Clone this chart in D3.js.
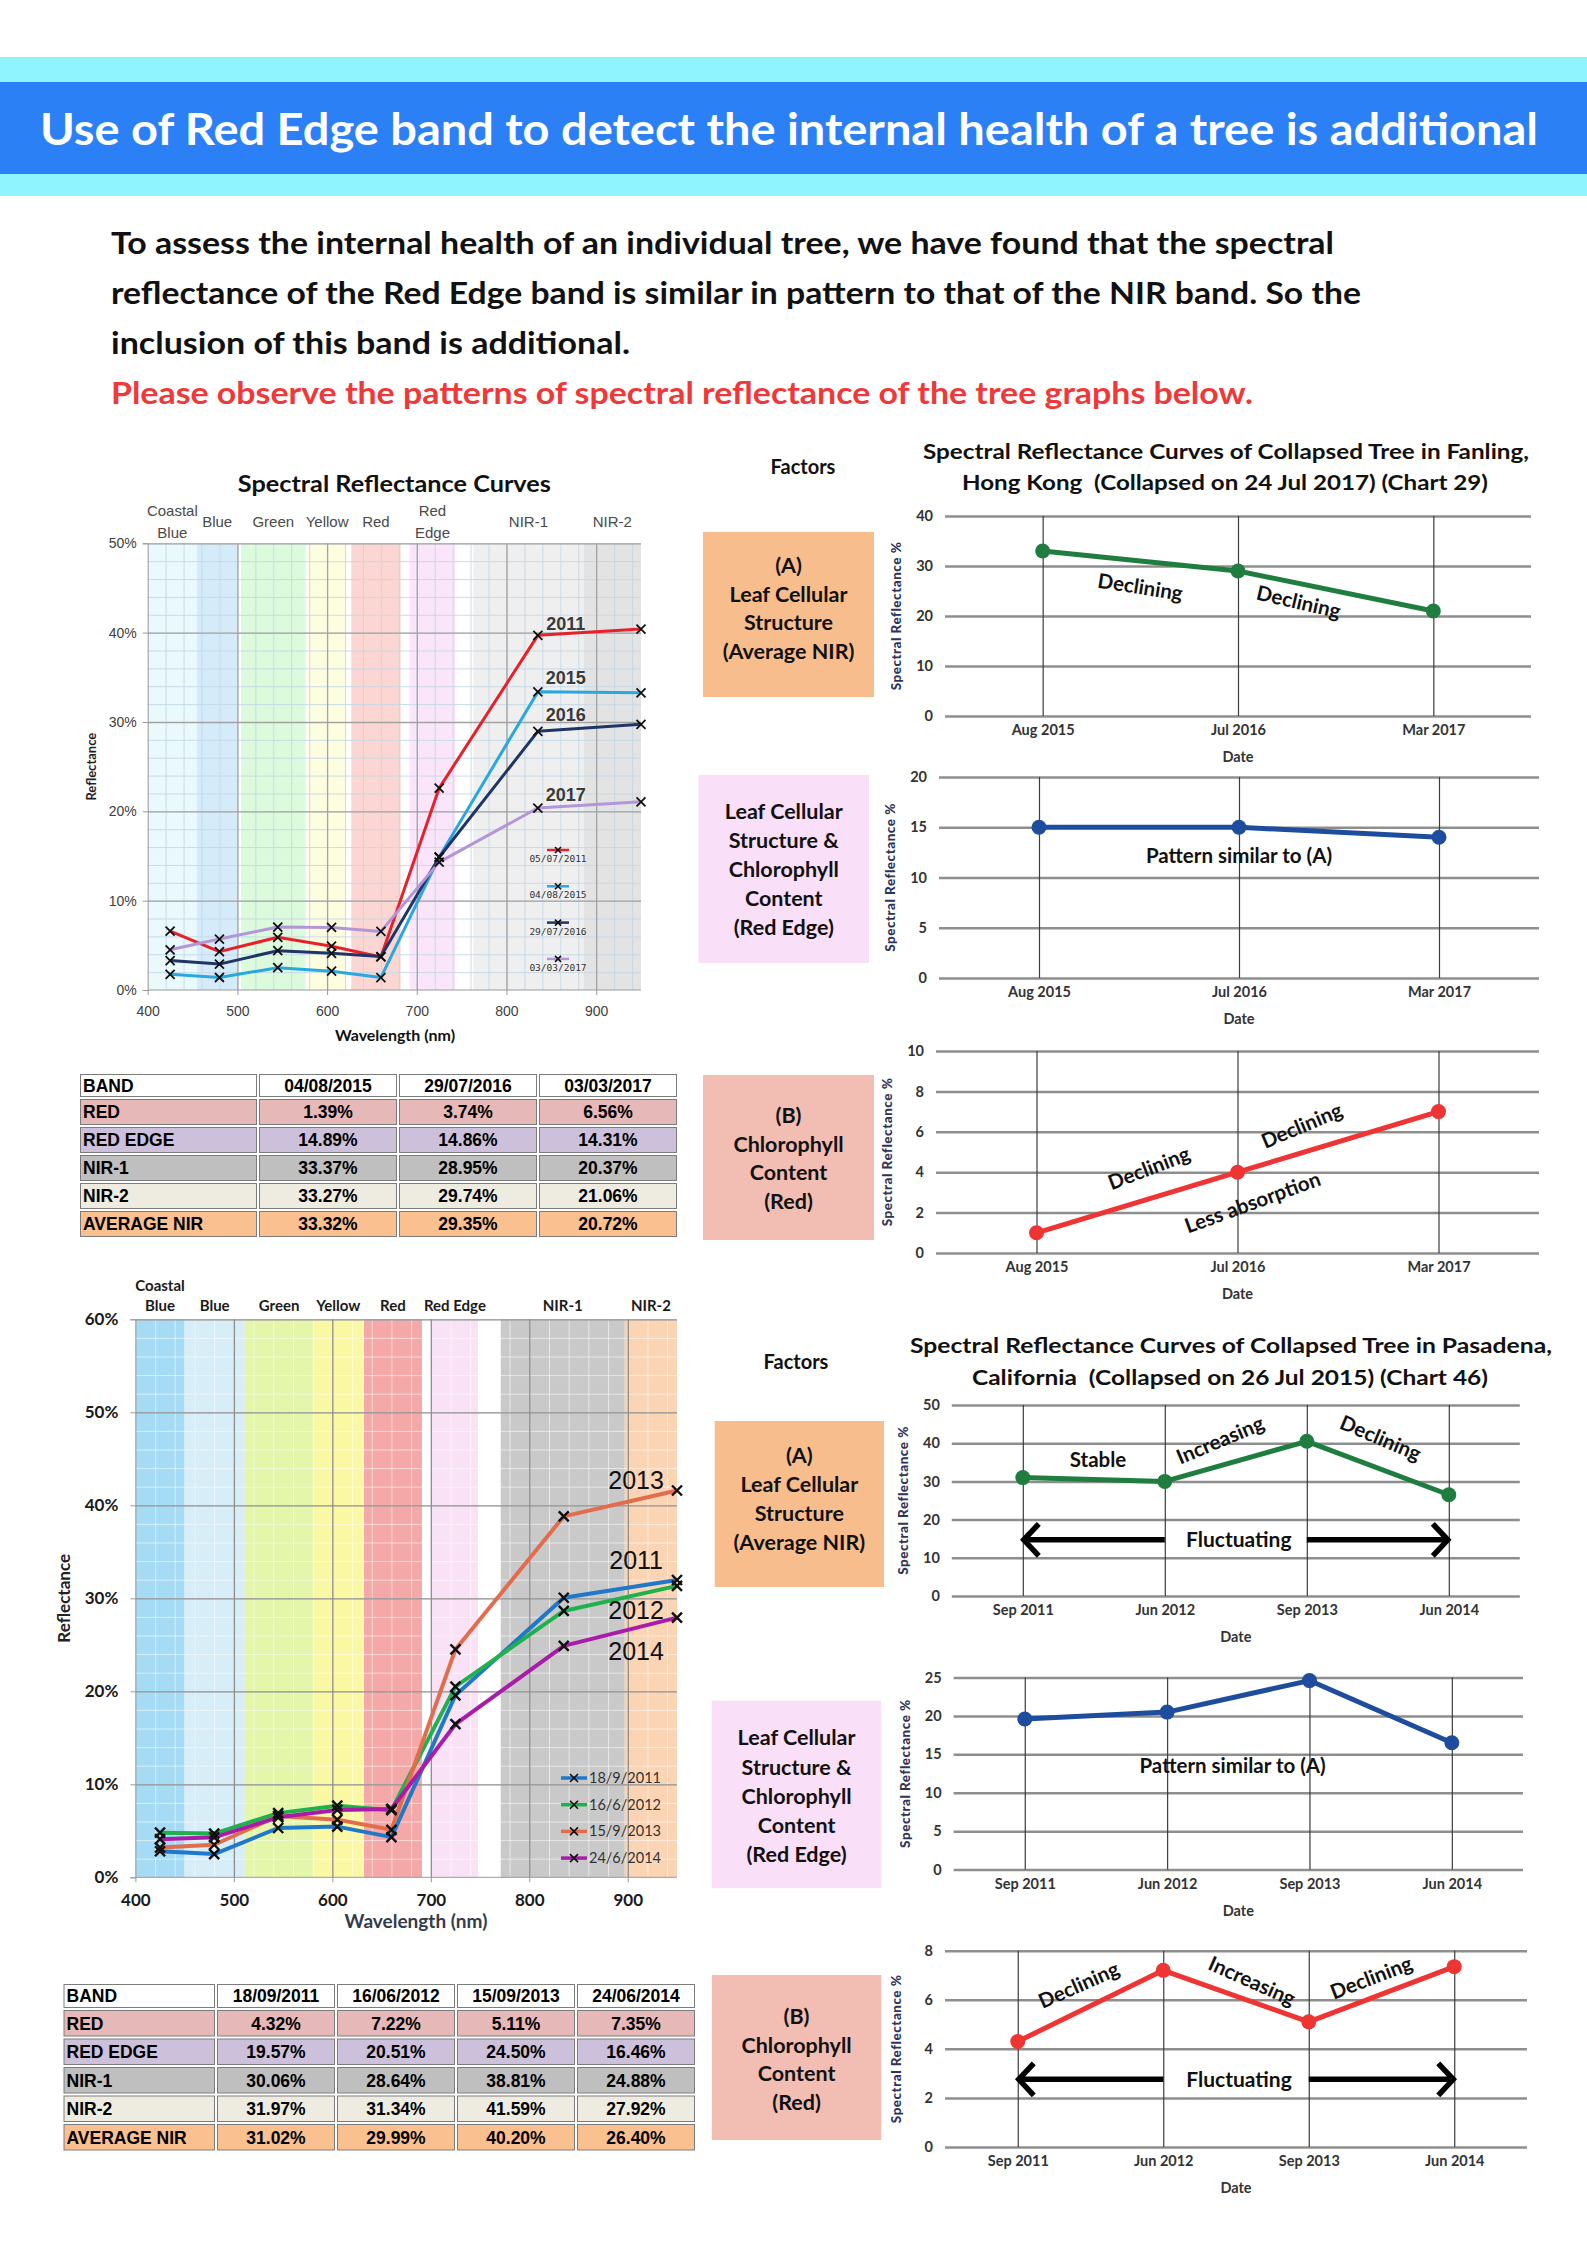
<!DOCTYPE html>
<html>
<head>
<meta charset="utf-8">
<script src="https://cdn.jsdelivr.net/npm/d3@7"></script>
<style>
  body { margin: 0; background: #fff; }
  svg { display: block; }
</style>
</head>
<body>
<script>
// ---------- data ----------
const bandWavelengths = [425, 480, 545, 605, 660, 725, 835, 950];

// Fanling spectral curves (%)
const fanlingDates = ["05/07/2011", "04/08/2015", "29/07/2016", "03/03/2017"];
const fanling2011 = [6.6, 4.3, 5.9, 4.9, 3.7, 22.6, 39.7, 40.4];
const fanling2015 = [1.75, 1.4, 2.5, 2.1, 1.39, 14.89, 33.37, 33.27];
const fanling2016 = [3.3, 2.9, 4.4, 4.1, 3.74, 14.86, 28.95, 29.74];
const fanling2017 = [4.5, 5.7, 7.05, 7.0, 6.56, 14.31, 20.37, 21.06];

// Pasadena spectral curves (%)
const pasadenaDates = ["18/9/2011", "16/6/2012", "15/9/2013", "24/6/2014"];
const pasadena2011 = [2.8, 2.5, 5.3, 5.45, 4.32, 19.57, 30.06, 31.97];
const pasadena2012 = [4.8, 4.7, 6.9, 7.7, 7.22, 20.51, 28.64, 31.34];
const pasadena2013 = [3.2, 3.5, 6.6, 6.2, 5.11, 24.50, 38.81, 41.59];
const pasadena2014 = [4.1, 4.3, 6.45, 7.24, 7.35, 16.46, 24.88, 27.92];

// spectral bands (nm)
const fanlingBandNames = [["Coastal", "Blue"], ["Blue"], ["Green"], ["Yellow"], ["Red"], ["Red", "Edge"], ["NIR-1"], ["NIR-2"]];
const fanlingBandFrom = [400, 455, 504, 579, 627, 692, 763, 886];
const fanlingBandTo = [455, 500, 576, 621, 682, 743, 886, 950];
const pasadenaBandNames = [["Coastal", "Blue"], ["Blue"], ["Green"], ["Yellow"], ["Red"], ["Red Edge"], ["NIR-1"], ["NIR-2"]];
const pasadenaBandFrom = [400, 450, 511, 581, 632, 701, 771, 897];
const pasadenaBandTo = [450, 511, 581, 631, 691, 748, 897, 950];

// tables
const tableBands = ["RED", "RED EDGE", "NIR-1", "NIR-2", "AVERAGE NIR"];
const fanlingTableDates = ["04/08/2015", "29/07/2016", "03/03/2017"];
const fanlingRed = [1.39, 3.74, 6.56];
const fanlingRedEdge = [14.89, 14.86, 14.31];
const fanlingNir1 = [33.37, 28.95, 20.37];
const fanlingNir2 = [33.27, 29.74, 21.06];
const fanlingAvgNir = [33.32, 29.35, 20.72];
const pasadenaTableDates = ["18/09/2011", "16/06/2012", "15/09/2013", "24/06/2014"];
const pasadenaRed = [4.32, 7.22, 5.11, 7.35];
const pasadenaRedEdge = [19.57, 20.51, 24.50, 16.46];
const pasadenaNir1 = [30.06, 28.64, 38.81, 24.88];
const pasadenaNir2 = [31.97, 31.34, 41.59, 27.92];
const pasadenaAvgNir = [31.02, 29.99, 40.20, 26.40];

// trend charts (values as plotted)
const fanlingTrendDates = ["Aug 2015", "Jul 2016", "Mar 2017"];
const fanlingTrendNir = [33, 29, 21];
const fanlingTrendRedEdge = [15, 15, 14];
const fanlingTrendRed = [1, 4, 7];
const pasadenaTrendDates = ["Sep 2011", "Jun 2012", "Sep 2013", "Jun 2014"];
const pasadenaTrendNir = [31, 30, 40.5, 26.5];
const pasadenaTrendRedEdge = [19.6, 20.5, 24.6, 16.5];
const pasadenaTrendRed = [4.3, 7.2, 5.1, 7.35];

// ---------- page ----------
const svg = d3.select("body").append("svg")
    .attr("width", 1587)
    .attr("height", 2245);

const label = (g, txt, x, y, o = {}) => {
    const t = g.append("text")
        .attr("x", x).attr("y", y)
        .attr("font-family", o.family || "Lato, sans-serif")
        .attr("font-size", o.size || 14)
        .attr("font-weight", o.weight || 700)
        .attr("fill", o.fill || "#111")
        .attr("text-anchor", o.anchor || "start")
        .style("white-space", "pre")
        .text(txt);
    if (o.dy) t.attr("dy", o.dy);
    if (o.len) t.attr("textLength", o.len).attr("lengthAdjust", "spacingAndGlyphs");
    if (o.rotate) t.attr("transform", `rotate(${o.rotate},${x},${y})`);
    if (o.spacing) t.attr("letter-spacing", o.spacing);
    return t;
};

// header bars
svg.append("rect").attr("x", 0).attr("y", 57).attr("width", 1587).attr("height", 139).attr("fill", "#8ff4fd");
svg.append("rect").attr("x", 0).attr("y", 82).attr("width", 1587).attr("height", 92).attr("fill", "#2b80f6");
label(svg, "Use of Red Edge band to detect the internal health of a tree is additional", 40, 145,
    { size: 44, fill: "#fff", len: 1498 });

// intro text
const intro = [
    ["To assess the internal health of an individual tree, we have found that the spectral", 254, 1223, "#111"],
    ["reflectance of the Red Edge band is similar in pattern to that of the NIR band. So the", 304, 1250, "#111"],
    ["inclusion of this band is additional.", 354, 519, "#111"],
    ["Please observe the patterns of spectral reflectance of the tree graphs below.", 404, 1142, "#f03838"]
];
intro.forEach(d => label(svg, d[0], 111, d[1], { size: 31, len: d[2], fill: d[3] }));

// ---------- spectral reflectance chart ----------
const xMark = s => `M${-s},${-s}L${s},${s}M${-s},${s}L${s},${-s}`;

function spectralChart(o) {
    const g = svg.append("g");
    const x = d3.scaleLinear().domain([400, 950]).range([o.left, o.right]);
    const y = d3.scaleLinear().domain([0, o.yMax]).range([o.bottom, o.top]);
    const w = o.right - o.left, h = o.bottom - o.top;

    // band backgrounds
    g.selectAll(null).data(o.bandFrom).join("rect")
        .attr("x", d => x(d))
        .attr("y", o.top)
        .attr("width", (d, i) => x(o.bandTo[i]) - x(d))
        .attr("height", h)
        .attr("fill", (d, i) => o.bandColors[i]);

    // minor grid
    g.append("g").attr("transform", `translate(${o.left},0)`)
        .call(d3.axisLeft(y).tickValues(d3.range(2, o.yMax + 1, 2)).tickSize(-w).tickFormat(""))
        .call(a => a.select(".domain").remove())
        .selectAll("line").attr("stroke", o.minorColor).attr("stroke-opacity", o.minorOpacity);
    g.append("g").attr("transform", `translate(0,${o.bottom})`)
        .call(d3.axisBottom(x).tickValues(d3.range(420, 951, 20)).tickSize(-h).tickFormat(""))
        .call(a => a.select(".domain").remove())
        .selectAll("line").attr("stroke", o.minorColor).attr("stroke-opacity", o.minorOpacity);

    // major grid
    g.append("g").attr("transform", `translate(${o.left},0)`)
        .call(d3.axisLeft(y).tickValues(d3.range(10, o.yMax + 1, 10)).tickSize(-w).tickFormat(""))
        .call(a => a.select(".domain").remove())
        .selectAll("line").attr("stroke", o.majorColor).attr("stroke-width", 1.3);
    g.append("g").attr("transform", `translate(0,${o.bottom})`)
        .call(d3.axisBottom(x).tickValues([500, 600, 700, 800, 900]).tickSize(-h).tickFormat(""))
        .call(a => a.select(".domain").remove())
        .selectAll("line").attr("stroke", o.majorColor).attr("stroke-width", 1.3);

    // axes
    g.append("g").attr("transform", `translate(${o.left},0)`)
        .call(d3.axisLeft(y).tickValues(d3.range(0, o.yMax + 1, 10)).tickSize(5).tickPadding(o.yPad).tickFormat(d => d + "%"))
        .call(a => a.selectAll("path,line").attr("stroke", "#9a9a9a"))
        .call(a => a.selectAll("text").attr("font-family", o.tickFamily).attr("font-weight", o.tickWeight)
            .attr("font-size", o.tickSize).attr("fill", o.tickFill));
    g.append("g").attr("transform", `translate(0,${o.bottom})`)
        .call(d3.axisBottom(x).tickValues(d3.range(400, 901, 100)).tickSize(5).tickPadding(o.xPad))
        .call(a => a.select(".domain").attr("d", `M${o.left},0H${o.right}`))
        .call(a => a.selectAll("path,line").attr("stroke", "#9a9a9a"))
        .call(a => a.selectAll("text").attr("font-family", o.tickFamily).attr("font-weight", o.tickWeight)
            .attr("font-size", o.tickSize).attr("fill", o.tickFill));

    // band labels
    o.bandNames.forEach((lines, i) => {
        const cx = x((o.bandFrom[i] + o.bandTo[i]) / 2);
        lines.forEach((t, j) => {
            const by = o.labelStack === "center"
                ? o.labelY + (j - (lines.length - 1) / 2) * o.labelGap
                : o.labelY - (lines.length - 1 - j) * o.labelGap;
            label(g, t, cx, by, { anchor: "middle", size: o.bandSize, weight: o.bandWeight,
                family: o.bandFamily, fill: o.bandFill });
        });
    });

    // titles
    if (o.title) label(g, o.title, (o.left + o.right) / 2, o.titleY, { anchor: "middle", size: 22, len: 313, fill: "#111" });
    label(g, "Wavelength (nm)", o.xTitleX, o.xTitleY, { anchor: "middle", size: o.xTitleSize, fill: o.xTitleFill });
    label(g, "Reflectance", o.yTitleX, (o.top + o.bottom) / 2 + o.yTitleShift, { anchor: "middle", size: o.yTitleSize,
        rotate: -90, fill: "#222" });

    // series
    const line = d3.line().x((d, i) => x(bandWavelengths[i])).y(d => y(d));
    o.series.forEach((s, k) => {
        g.append("path").datum(s)
            .attr("d", line)
            .attr("fill", "none")
            .attr("stroke", o.colors[k])
            .attr("stroke-width", o.lineWidth)
            .attr("stroke-linejoin", "round");
    });
    o.series.forEach(s => {
        g.selectAll(null).data(s).join("path")
            .attr("d", xMark(o.markSize))
            .attr("transform", (d, i) => `translate(${x(bandWavelengths[i])},${y(d)})`)
            .attr("stroke", "#111")
            .attr("stroke-width", o.markWidth)
            .attr("fill", "none");
    });

    // year labels
    o.yearLabels.forEach((t, k) => label(g, t, x(o.yearNm), y(o.yearValues[k]), {
        anchor: "middle", size: o.yearSize, weight: o.yearWeight, family: "Liberation Sans, Arial, sans-serif",
        fill: o.yearFill, dy: "0.35em" }));

    // legend
    o.legend.forEach((t, k) => {
        const ly = o.legendY + k * o.legendGap;
        g.append("line").attr("x1", o.legendX).attr("x2", o.legendX + o.legendW)
            .attr("y1", ly).attr("y2", ly).attr("stroke", o.colors[k]).attr("stroke-width", o.legendLine);
        g.append("path").attr("d", xMark(o.legendMark))
            .attr("transform", `translate(${o.legendX + o.legendW / 2},${ly})`)
            .attr("stroke", "#111").attr("stroke-width", 1.6).attr("fill", "none");
        if (o.legendBelow) {
            label(g, t, o.legendX + o.legendW / 2, ly + 12, { anchor: "middle", size: 9.5, weight: 400,
                family: "DejaVu Sans Mono, monospace", fill: "#333" });
        } else {
            label(g, t, o.legendX + o.legendW + 2, ly, { size: 14.5, weight: 400, fill: "#333", dy: "0.35em" });
        }
    });
}

spectralChart({
    left: 147.7, right: 641, top: 543.3, bottom: 990, yMax: 50,
    bandFrom: fanlingBandFrom, bandTo: fanlingBandTo, bandNames: fanlingBandNames,
    bandColors: ["#eaf9fc", "#d6ebfa", "#dcfadc", "#fdfde0", "#fbd6d3", "#fbe5fb", "#efefef", "#e3e3e3"],
    minorColor: "#c3d8e6", minorOpacity: 0.9, majorColor: "#a3a3a3",
    yPad: 6, xPad: 11, tickFamily: "Liberation Sans, Arial, sans-serif", tickWeight: 400, tickSize: 14, tickFill: "#404040",
    labelY: 527, labelGap: 22, labelStack: "center", bandSize: 15, bandWeight: 400,
    bandFamily: "Liberation Sans, Arial, sans-serif", bandFill: "#4a4a4a",
    title: "Spectral Reflectance Curves", titleY: 492,
    xTitleX: 395, xTitleY: 1041, xTitleSize: 16, xTitleFill: "#111",
    yTitleX: 96, yTitleShift: 0, yTitleSize: 13,
    series: [fanling2011, fanling2015, fanling2016, fanling2017],
    colors: ["#e8202a", "#2aa8de", "#1f3566", "#b296d8"],
    lineWidth: 3, markSize: 4.5, markWidth: 1.8,
    yearLabels: ["2011", "2015", "2016", "2017"], yearNm: 866, yearValues: [41.0, 35.0, 30.8, 21.9],
    yearSize: 18, yearWeight: 700, yearFill: "#3a3a3a",
    legend: fanlingDates, legendX: 547, legendW: 22, legendY: 850, legendGap: 36.3,
    legendLine: 2.5, legendMark: 3, legendBelow: true
});

spectralChart({
    left: 135.4, right: 677, top: 1319.3, bottom: 1877.3, yMax: 60,
    bandFrom: pasadenaBandFrom, bandTo: pasadenaBandTo, bandNames: pasadenaBandNames,
    bandColors: ["#a6dbf5", "#d7eef8", "#e3f6a9", "#fbf8a3", "#f4a8a8", "#f9e2f5", "#c9c9c9", "#fbd4b4"],
    minorColor: "#ffffff", minorOpacity: 0.55, majorColor: "#8c8c8c",
    yPad: 12, xPad: 12, tickFamily: "Lato, sans-serif", tickWeight: 700, tickSize: 17, tickFill: "#1a1a1a",
    labelY: 1311, labelGap: 20, labelStack: "up", bandSize: 15, bandWeight: 700,
    bandFamily: "Lato, sans-serif", bandFill: "#1a1a1a",
    xTitleX: 416, xTitleY: 1928, xTitleSize: 19, xTitleFill: "#333b4c",
    yTitleX: 70, yTitleShift: 0, yTitleSize: 17,
    series: [pasadena2011, pasadena2012, pasadena2013, pasadena2014],
    colors: ["#1f78c8", "#1fb14b", "#e26d4d", "#a81ca9"],
    lineWidth: 4, markSize: 5, markWidth: 2.4,
    yearLabels: ["2013", "2011", "2012", "2014"], yearNm: 908.5, yearValues: [42.7, 34.1, 28.7, 24.3],
    yearSize: 25, yearWeight: 400, yearFill: "#111",
    legend: pasadenaDates, legendX: 561, legendW: 26, legendY: 1778, legendGap: 26.7,
    legendLine: 3.5, legendMark: 4, legendBelow: false
});

// ---------- tables ----------
const bandFills = ["#e6b8b7", "#ccc0da", "#bfbfbf", "#eeece1", "#fac090"];

function dataTable(o) {
    const g = svg.append("g");
    const n = o.dates.length;
    const colX = [o.left].concat(d3.range(n + 1).map(i => o.left + o.firstW + i * o.colW));
    const rowY = [o.top, o.top + o.headH].concat(d3.range(1, o.rows.length + 1).map(i => o.top + o.headH + i * o.rowH));
    const cells = [];
    const header = ["BAND"].concat(o.dates);
    header.forEach((t, j) => cells.push({ r: 0, c: j, t, fill: "#fff" }));
    o.rows.forEach((row, r) => {
        cells.push({ r: r + 1, c: 0, t: tableBands[r], fill: bandFills[r] });
        row.forEach((v, j) => cells.push({ r: r + 1, c: j + 1, t: d3.format(".2f")(v) + "%", fill: bandFills[r] }));
    });
    g.selectAll(null).data(cells).join("rect")
        .attr("x", d => colX[d.c] + 1.5)
        .attr("y", d => rowY[d.r] + 1.5)
        .attr("width", d => colX[d.c + 1] - colX[d.c] - 3)
        .attr("height", d => rowY[d.r + 1] - rowY[d.r] - 3)
        .attr("fill", d => d.fill)
        .attr("stroke", "#7c7c7c")
        .attr("stroke-width", 1);
    g.selectAll(null).data(cells).join("text")
        .attr("x", d => d.c === 0 ? colX[0] + 4 : (colX[d.c] + colX[d.c + 1]) / 2)
        .attr("y", d => (rowY[d.r] + rowY[d.r + 1]) / 2)
        .attr("dy", "0.36em")
        .attr("text-anchor", d => d.c === 0 ? "start" : "middle")
        .attr("font-family", "Liberation Sans, Arial, sans-serif")
        .attr("font-weight", 700)
        .attr("font-size", o.size)
        .attr("fill", "#000")
        .text(d => d.t);
}

dataTable({
    left: 79, firstW: 179, colW: 140, top: 1073, headH: 25, rowH: 28, size: 17.5,
    dates: fanlingTableDates,
    rows: [fanlingRed, fanlingRedEdge, fanlingNir1, fanlingNir2, fanlingAvgNir]
});
dataTable({
    left: 62.5, firstW: 153.5, colW: 120, top: 1983, headH: 26, rowH: 28.5, size: 17.5,
    dates: pasadenaTableDates,
    rows: [pasadenaRed, pasadenaRedEdge, pasadenaNir1, pasadenaNir2, pasadenaAvgNir]
});

// ---------- factor boxes ----------
function factorBox(b) {
    svg.append("rect").attr("x", b.x0).attr("y", b.y0)
        .attr("width", b.x1 - b.x0).attr("height", b.y1 - b.y0).attr("fill", b.fill);
    b.lines.forEach((t, i) => label(svg, t, (b.x0 + b.x1) / 2, b.base + i * b.gap,
        { anchor: "middle", size: 21.5, fill: "#111" }));
}
const boxA = ["(A)", "Leaf Cellular", "Structure", "(Average NIR)"];
const boxRE = ["Leaf Cellular", "Structure &", "Chlorophyll", "Content", "(Red Edge)"];
const boxB = ["(B)", "Chlorophyll", "Content", "(Red)"];
factorBox({ x0: 703, x1: 874, y0: 532, y1: 697, fill: "#f8bd8c", lines: boxA, base: 573, gap: 28.7 });
factorBox({ x0: 698.5, x1: 869, y0: 775, y1: 963, fill: "#f9dff8", lines: boxRE, base: 819, gap: 29 });
factorBox({ x0: 703, x1: 874, y0: 1075, y1: 1240, fill: "#f2bdb2", lines: boxB, base: 1123, gap: 28.5 });
factorBox({ x0: 714.7, x1: 884, y0: 1421, y1: 1587, fill: "#f8bd8c", lines: boxA, base: 1463, gap: 28.9 });
factorBox({ x0: 711.8, x1: 881.3, y0: 1700.7, y1: 1888.2, fill: "#f9dff8", lines: boxRE, base: 1745.4, gap: 29.2 });
factorBox({ x0: 711.8, x1: 881.3, y0: 1975, y1: 2140, fill: "#f2bdb2", lines: boxB, base: 2024, gap: 28.5 });

label(svg, "Factors", 803, 474, { anchor: "middle", size: 20 });
label(svg, "Factors", 796, 1369, { anchor: "middle", size: 20 });
label(svg, "Spectral Reflectance Curves of Collapsed Tree in Fanling,", 1226, 459, { anchor: "middle", size: 21, len: 606 });
label(svg, "Hong Kong  (Collapsed on 24 Jul 2017) (Chart 29)", 1225, 490, { anchor: "middle", size: 21, len: 526 });
label(svg, "Spectral Reflectance Curves of Collapsed Tree in Pasadena,", 1231, 1353, { anchor: "middle", size: 21, len: 642 });
label(svg, "California  (Collapsed on 26 Jul 2015) (Chart 46)", 1230, 1385, { anchor: "middle", size: 21, len: 516 });

// ---------- trend charts ----------
function trendChart(o) {
    const g = svg.append("g");
    const x = d3.scalePoint().domain(o.dates).range([o.left, o.right]).padding(0.5);
    const y = d3.scaleLinear().domain([0, o.yMax]).range([o.bottom, o.top]);
    const xi = f => x(o.dates[0]) + f * x.step();

    g.append("g").attr("transform", `translate(${o.left},0)`)
        .call(d3.axisLeft(y).tickValues(d3.range(0, o.yMax + 0.01, o.yStep)).tickSize(-(o.right - o.left)).tickPadding(12))
        .call(a => a.select(".domain").remove())
        .call(a => a.selectAll(".tick line").attr("stroke", "#8e8e8e").attr("stroke-width", 2.5))
        .call(a => a.selectAll(".tick text").attr("font-family", "Lato, sans-serif").attr("font-weight", 700)
            .attr("font-size", 14.5).attr("fill", "#333"));
    g.append("g").attr("transform", `translate(0,${o.bottom})`)
        .call(d3.axisBottom(x).tickSize(-(o.bottom - o.top)).tickPadding(9))
        .call(a => a.select(".domain").remove())
        .call(a => a.selectAll(".tick line").attr("stroke", "#3c3c3c").attr("stroke-width", 1.2))
        .call(a => a.selectAll(".tick text").attr("font-family", "Lato, sans-serif").attr("font-weight", 700)
            .attr("font-size", 14.5).attr("fill", "#333"));

    label(g, "Date", (o.left + o.right) / 2, o.bottom + 46, { anchor: "middle", size: 14.5, fill: "#333" });
    label(g, "Spectral Reflectance %", o.left - 44, (o.top + o.bottom) / 2, { anchor: "middle", size: 13.5,
        weight: 900, rotate: -90, fill: "#2e3358", spacing: 0.5 });

    g.append("path").datum(o.values)
        .attr("d", d3.line().x((d, i) => x(o.dates[i])).y(d => y(d)))
        .attr("fill", "none")
        .attr("stroke", o.color)
        .attr("stroke-width", 5)
        .attr("stroke-linejoin", "round");
    g.selectAll(null).data(o.values).join("circle")
        .attr("cx", (d, i) => x(o.dates[i]))
        .attr("cy", d => y(d))
        .attr("r", 7.5)
        .attr("fill", o.color);

    (o.notes || []).forEach(n => label(g, n.text, xi(n.at), y(n.value),
        { anchor: "middle", size: 20.5, rotate: n.angle, dy: "0.35em", fill: "#111" }));

    if (o.arrow) {
        const ay = y(o.arrow.value);
        const n = o.dates.length;
        const xa = x(o.dates[0]), xb = x(o.dates[1]), xc = x(o.dates[n - 2]), xd = x(o.dates[n - 1]);
        const a = g.append("g").attr("stroke", "#000").attr("stroke-width", 5.5).attr("fill", "none");
        a.append("line").attr("x1", xa + 2).attr("x2", xb).attr("y1", ay).attr("y2", ay);
        a.append("line").attr("x1", xc).attr("x2", xd - 2).attr("y1", ay).attr("y2", ay);
        a.append("path").attr("d", `M${xa + 16},${ay - 16}L${xa + 1},${ay}L${xa + 16},${ay + 16}`);
        a.append("path").attr("d", `M${xd - 16},${ay - 16}L${xd - 1},${ay}L${xd - 16},${ay + 16}`);
        label(g, "Fluctuating", (xb + xc) / 2 + 3, ay, { anchor: "middle", size: 21, dy: "0.35em", fill: "#111" });
    }
}

trendChart({
    left: 945, right: 1531, top: 516, bottom: 716, yMax: 40, yStep: 10,
    dates: fanlingTrendDates, values: fanlingTrendNir, color: "#1f7d40",
    notes: [{ text: "Declining", at: 0.5, value: 25.8, angle: 9 },
            { text: "Declining", at: 1.31, value: 22.8, angle: 13 }]
});
trendChart({
    left: 939, right: 1539, top: 777, bottom: 978, yMax: 20, yStep: 5,
    dates: fanlingTrendDates, values: fanlingTrendRedEdge, color: "#1e4d9e",
    notes: [{ text: "Pattern similar to (A)", at: 1.0, value: 12.2, angle: 0 }]
});
trendChart({
    left: 936, right: 1539, top: 1051, bottom: 1253, yMax: 10, yStep: 2,
    dates: fanlingTrendDates, values: fanlingTrendRed, color: "#ef3434",
    notes: [{ text: "Declining", at: 0.56, value: 4.2, angle: -21 },
            { text: "Declining", at: 1.32, value: 6.3, angle: -23 },
            { text: "Less absorption", at: 1.075, value: 2.5, angle: -20 }]
});
trendChart({
    left: 951.8, right: 1519.8, top: 1405, bottom: 1596, yMax: 50, yStep: 10,
    dates: pasadenaTrendDates, values: pasadenaTrendNir, color: "#1f7d40",
    notes: [{ text: "Stable", at: 0.53, value: 35.6, angle: 0 },
            { text: "Increasing", at: 1.39, value: 40.8, angle: -23 },
            { text: "Declining", at: 2.52, value: 41.3, angle: 23 }],
    arrow: { value: 14.7 }
});
trendChart({
    left: 953.6, right: 1523, top: 1677.5, bottom: 1869.6, yMax: 25, yStep: 5,
    dates: pasadenaTrendDates, values: pasadenaTrendRedEdge, color: "#1e4d9e",
    notes: [{ text: "Pattern similar to (A)", at: 1.46, value: 13.5, angle: 0 }]
});
trendChart({
    left: 945, right: 1527, top: 1950.7, bottom: 2147, yMax: 8, yStep: 2,
    dates: pasadenaTrendDates, values: pasadenaTrendRed, color: "#ef3434",
    notes: [{ text: "Declining", at: 0.42, value: 6.6, angle: -24 },
            { text: "Increasing", at: 1.61, value: 6.76, angle: 24 },
            { text: "Declining", at: 2.43, value: 6.9, angle: -21 }],
    arrow: { value: 2.76 }
});
</script>
</body>
</html>
